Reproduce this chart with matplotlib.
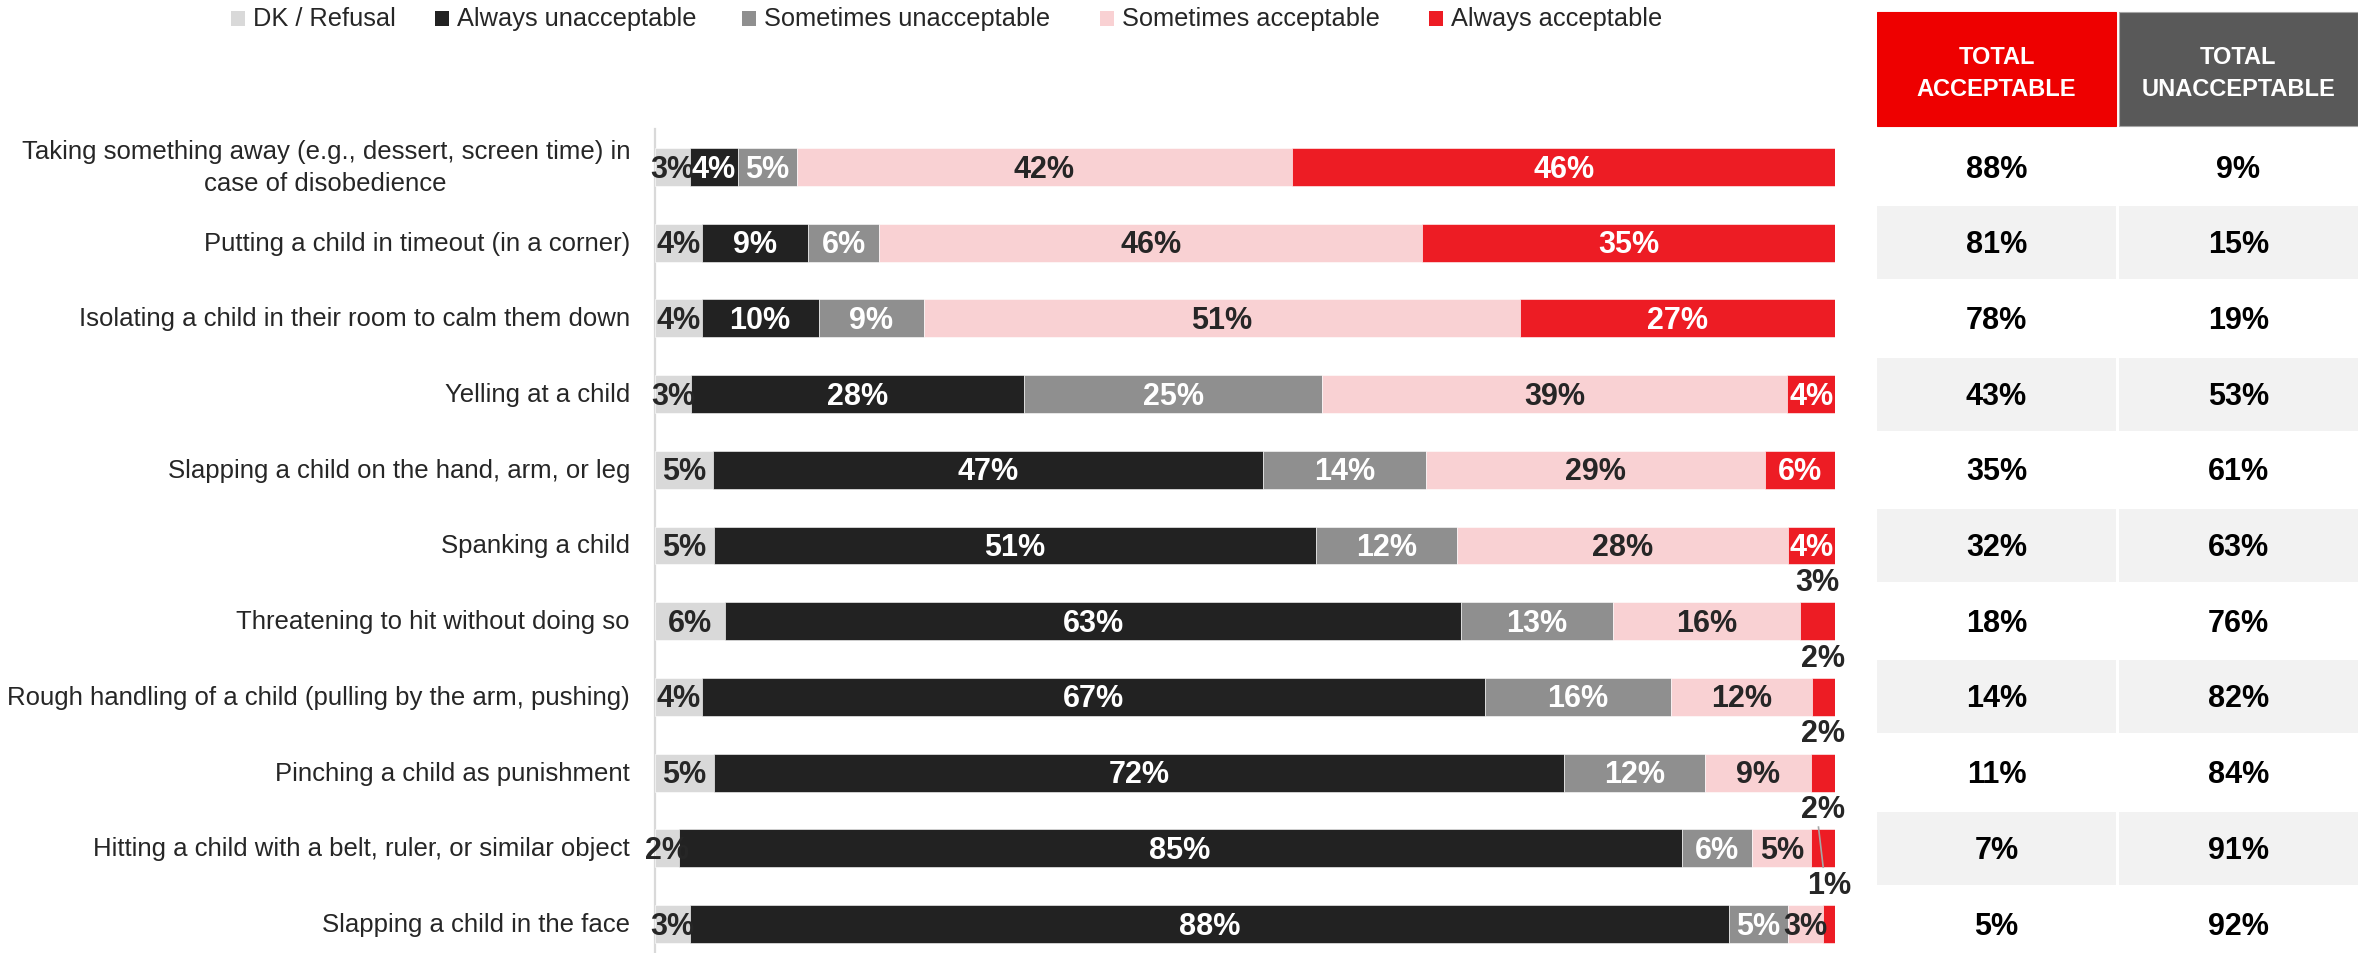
import matplotlib
matplotlib.use("Agg")
import matplotlib.pyplot as plt
from matplotlib import font_manager
from matplotlib.patches import Rectangle
from matplotlib.transforms import offset_copy
import numpy as np

# ---------------- data ----------------
categories = [
    "Taking something away (e.g., dessert, screen time) in\ncase of disobedience",
    "Putting a child in timeout (in a corner)",
    "Isolating a child in their room to calm them down",
    "Yelling at a child",
    "Slapping a child on the hand, arm, or leg",
    "Spanking a child",
    "Threatening to hit without doing so",
    "Rough handling of a child (pulling by the arm, pushing)",
    "Pinching a child as punishment",
    "Hitting a child with a belt, ruler, or similar object",
    "Slapping a child in the face",
]
series_names = ["DK / Refusal", "Always unacceptable", "Sometimes unacceptable",
                "Sometimes acceptable", "Always acceptable"]
dk_refusal = [3, 4, 4, 3, 5, 5, 6, 4, 5, 2, 3]
always_unacceptable = [4, 9, 10, 28, 47, 51, 63, 67, 72, 85, 88]
sometimes_unacceptable = [5, 6, 9, 25, 14, 12, 13, 16, 12, 6, 5]
sometimes_acceptable = [42, 46, 51, 39, 29, 28, 16, 12, 9, 5, 3]
always_acceptable = [46, 35, 27, 4, 6, 4, 3, 2, 2, 2, 1]
total_acceptable = [88, 81, 78, 43, 35, 32, 18, 14, 11, 7, 5]
total_unacceptable = [9, 15, 19, 53, 61, 63, 76, 82, 84, 91, 92]
table_headers = ["TOTAL\nACCEPTABLE", "TOTAL\nUNACCEPTABLE"]

# ---------------- style ----------------
colors = ["#d9d9d9", "#222222", "#8f8f8f", "#f9d1d3", "#ed1c24"]
label_colors = ["#262626", "white", "white", "#262626", "white"]
DARK = "#262626"

available = {f.name for f in font_manager.fontManager.ttflist}
def pick(*names):
    for n in names:
        if n in available:
            return n
    return "DejaVu Sans"
REG = pick("Liberation Sans", "Arimo", "DejaVu Sans")
NARROW = pick("Liberation Sans Narrow", "Liberation Sans", "DejaVu Sans")

W, H = 2369, 954
fig = plt.figure(figsize=(W / 100, H / 100), dpi=100)
fig.patch.set_facecolor("white")

# vertical layout: row 0 centre at 168px, step 75.7px
row0, step = 168.0, 75.7
ytop = (0 - row0) / step
ybot = (H - row0) / step

# ---------------- bars ----------------
ax = fig.add_axes([655 / W, 0, (1835 - 655) / W, 1])
ax.set_xlim(0, 100)
ax.set_ylim(ybot, ytop)
ax.axis("off")

data = np.array([dk_refusal, always_unacceptable, sometimes_unacceptable,
                 sometimes_acceptable, always_acceptable], dtype=float)
norm = data / data.sum(axis=0) * 100
lefts = np.vstack([np.zeros(len(categories)), np.cumsum(norm, axis=0)[:-1]])
y = np.arange(len(categories))

ax.plot([0, 0], [-0.5, ybot], color="#d9d9d9", lw=1.6, clip_on=False, zorder=1)

for s in range(5):
    ax.barh(y, norm[s], left=lefts[s], height=0.5, color=colors[s],
            edgecolor="white", linewidth=0.4, zorder=2)
    for i in range(len(categories)):
        v = data[s, i]
        cx = lefts[s, i] + norm[s, i] / 2
        txt = f"{int(v)}%"
        if s == 4 and v <= 3:
            ax.text(cx, i - 0.52, txt, ha="center", va="center", fontsize=22,
                    fontweight="bold", color=DARK, family=REG, zorder=4)
        else:
            fam = NARROW if s == 4 else REG
            ax.text(cx, i + 0.02, txt, ha="center", va="center", fontsize=22,
                    fontweight="bold", color=label_colors[s], family=fam, zorder=4)

# leader line (row "Hitting a child ...")
i_lead = 9
cx = lefts[4, i_lead] + norm[4, i_lead] / 2
ax.plot([cx - 0.4, cx], [i_lead - 0.28, i_lead + 0.25], color="#a6a6a6", lw=1.2, zorder=5)

# category labels
tr = offset_copy(ax.transData, fig=fig, x=-25, y=0, units="dots")
for i, c in enumerate(categories):
    ax.text(0, i, c, transform=tr, ha="right", va="center", multialignment="center",
            fontsize=18.5, color=DARK, family=REG, linespacing=1.4)

# ---------------- table ----------------
ax2 = fig.add_axes([1877 / W, 0, (2358 - 1877) / W, 1])
ax2.set_xlim(0, 2)
ax2.set_ylim(ybot, ytop)
ax2.axis("off")
gap = 0.006
col_x = [(0, 1 - gap), (1 + gap, 2)]
head_top = (13 - row0) / step
head_bot = (127 - row0) / step
head_cols = ["#ee0000", "#595959"]
head_edge = ["#ee0000", "#a6a6a6"]
for j, (x0, x1) in enumerate(col_x):
    ax2.add_patch(Rectangle((x0, head_top), x1 - x0, head_bot - head_top,
                            facecolor=head_cols[j], edgecolor=head_edge[j], lw=0.8))
    l1, l2 = table_headers[j].split("\n")
    ax2.text((x0 + x1) / 2, (57 - row0) / step, l1, ha="center", va="center",
             fontsize=17, fontweight="bold", color="white", family=REG)
    ax2.text((x0 + x1) / 2, (89 - row0) / step, l2, ha="center", va="center",
             fontsize=17, fontweight="bold", color="white", family=REG)

for i in range(len(categories)):
    if i % 2 == 1:
        for (x0, x1) in col_x:
            ax2.add_patch(Rectangle((x0, i - 0.482), x1 - x0, 0.964,
                                    facecolor="#f2f2f2", edgecolor="none"))
    for j, vals in enumerate([total_acceptable, total_unacceptable]):
        x0, x1 = col_x[j]
        ax2.text((x0 + x1) / 2, i + 0.02, f"{vals[i]}%", ha="center", va="center",
                 fontsize=22, fontweight="bold", color="black", family=REG)

# ---------------- legend ----------------
axl = fig.add_axes([0, 0, 1, 1], zorder=-1)
axl.set_xlim(0, W)
axl.set_ylim(H, 0)
axl.axis("off")
leg_x = [231, 435, 742, 1100, 1429]
for k, name in enumerate(series_names):
    axl.add_patch(Rectangle((leg_x[k], 12), 14, 15, facecolor=colors[k], edgecolor="none"))
    axl.text(leg_x[k] + 22, 19, name, ha="left", va="center", fontsize=18.3,
             color=DARK, family=REG)

fig.savefig("out.png", dpi=100, facecolor="white")
